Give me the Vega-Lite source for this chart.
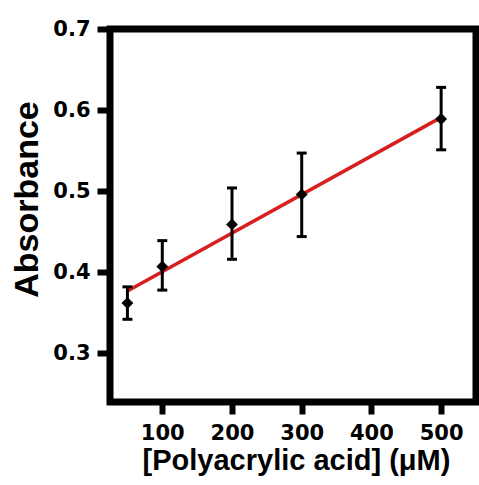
{
  "$schema": "https://vega.github.io/schema/vega-lite/v6.json",
  "width": 366,
  "height": 373,
  "autosize": {"type": "none"},
  "padding": {"left": 110, "top": 29, "right": 3, "bottom": 83},
  "background": "white",
  "config": {
    "view": {"stroke": "black", "strokeWidth": 7},
    "axis": {
      "domain": false,
      "grid": false,
      "tickColor": "black",
      "tickWidth": 6,
      "labelColor": "black",
      "labelFont": "DejaVu Sans",
      "labelFontWeight": "bold",
      "labelFontSize": 21,
      "labelFlush": false,
      "labelOverlap": false,
      "titleColor": "black",
      "titleFont": "Liberation Sans",
      "titleFontWeight": "bold"
    }
  },
  "datasets": {
    "points": [
      {"conc": 50, "absorbance": 0.362, "lower": 0.342, "upper": 0.382},
      {"conc": 100, "absorbance": 0.407, "lower": 0.378, "upper": 0.439},
      {"conc": 200, "absorbance": 0.459, "lower": 0.416, "upper": 0.504},
      {"conc": 300, "absorbance": 0.496, "lower": 0.444, "upper": 0.547},
      {"conc": 500, "absorbance": 0.589, "lower": 0.551, "upper": 0.628}
    ],
    "fit": [
      {"conc": 50, "absorbance": 0.377},
      {"conc": 500, "absorbance": 0.591}
    ]
  },
  "layer": [
    {
      "data": {"name": "fit"},
      "mark": {"type": "line", "color": "#d71f1f", "strokeWidth": 3.5},
      "encoding": {
        "x": {
          "field": "conc", "type": "quantitative",
          "scale": {"domain": [25, 550], "nice": false, "zero": false},
          "axis": {
            "values": [100, 200, 300, 400, 500],
            "tickSize": 12,
            "labelPadding": 8,
            "title": "[Polyacrylic acid] (μM)",
            "titleFontSize": 29,
            "titleBaseline": "alphabetic",
            "titleX": 186,
            "titleY": 67
          }
        },
        "y": {
          "field": "absorbance", "type": "quantitative",
          "scale": {"domain": [0.24, 0.7], "nice": false, "zero": false},
          "axis": {
            "values": [0.3, 0.4, 0.5, 0.6, 0.7],
            "format": ".1f",
            "tickSize": 13,
            "labelPadding": 7,
            "title": "Absorbance",
            "titleFontSize": 34,
            "titleBaseline": "alphabetic",
            "titleX": -73,
            "titleY": 170
          }
        }
      }
    },
    {
      "data": {"name": "points"},
      "mark": {"type": "rule", "color": "black", "strokeWidth": 3},
      "encoding": {
        "x": {"field": "conc", "type": "quantitative"},
        "y": {"field": "lower", "type": "quantitative"},
        "y2": {"field": "upper"}
      }
    },
    {
      "data": {"name": "points"},
      "mark": {"type": "tick", "orient": "horizontal", "color": "black", "size": 10, "thickness": 3, "opacity": 1},
      "encoding": {
        "x": {"field": "conc", "type": "quantitative"},
        "y": {"field": "lower", "type": "quantitative"}
      }
    },
    {
      "data": {"name": "points"},
      "mark": {"type": "tick", "orient": "horizontal", "color": "black", "size": 10, "thickness": 3, "opacity": 1},
      "encoding": {
        "x": {"field": "conc", "type": "quantitative"},
        "y": {"field": "upper", "type": "quantitative"}
      }
    },
    {
      "data": {"name": "points"},
      "mark": {"type": "point", "shape": "diamond", "filled": true, "size": 140, "color": "black", "opacity": 1},
      "encoding": {
        "x": {"field": "conc", "type": "quantitative"},
        "y": {"field": "absorbance", "type": "quantitative"}
      }
    }
  ]
}
